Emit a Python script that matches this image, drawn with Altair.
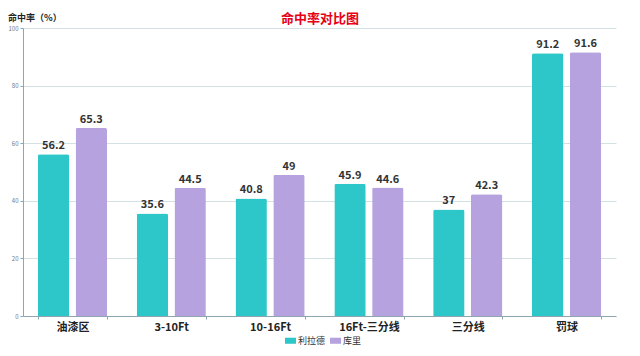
import altair as alt
import pandas as pd

categories = ["油漆区", "3-10Ft", "10-16Ft", "16Ft-三分线", "三分线", "罚球"]
series = ["利拉德", "库里"]
lillard = [56.2, 35.6, 40.8, 45.9, 37, 91.2]
curry = [65.3, 44.5, 49, 44.6, 42.3, 91.6]
colors = ["#2ec7c9", "#b6a2de"]
title_text = "命中率对比图"
ytitle_text = "命中率（%）"

rows = []
for i, c in enumerate(categories):
    rows.append({"区域": c, "球员": series[0], "命中率": lillard[i]})
    rows.append({"区域": c, "球员": series[1], "命中率": curry[i]})
df = pd.DataFrame(rows)

FONT = "Noto Sans CJK SC"

x = alt.X("区域:N", sort=categories,
          scale=alt.Scale(paddingInner=0.3, paddingOuter=0.15),
          axis=alt.Axis(title=None, labelAngle=0, labelFontSize=11, labelColor="#222",
                        labelFont=FONT, labelFontWeight="bold", labelPadding=2,
                        tickBand="extent", tickSize=3, tickColor="#8ea6b0",
                        domainColor="#8ea6b0", grid=False))
xo = alt.XOffset("球员:N", sort=series,
                 scale=alt.Scale(paddingInner=0.17, paddingOuter=0))
y = alt.Y("命中率:Q", scale=alt.Scale(domain=[0, 100]),
          axis=alt.Axis(values=[0, 20, 40, 60, 80, 100], title=None,
                        labelFontSize=6, labelColor="#777", labelPadding=2,
                        tickSize=3, tickColor="#8ea6b0", domainColor="#8ea6b0",
                        gridColor="#d3e0e4", gridWidth=1))
color = alt.Color("球员:N", sort=series,
                  scale=alt.Scale(domain=series, range=colors),
                  legend=alt.Legend(title=None, orient="none", direction="horizontal",
                                    legendX=262, legendY=307,
                                    symbolType="M-1,-0.55L1,-0.55L1,0.55L-1,0.55Z",
                                    symbolSize=121, symbolStrokeWidth=0,
                                    labelFontSize=9, labelFont=FONT, labelColor="#333",
                                    labelOffset=2, columnPadding=4))

bars = alt.Chart(df).mark_bar(cornerRadiusTopLeft=2, cornerRadiusTopRight=2).encode(
    x=x, xOffset=xo, y=y, color=color)

labels = alt.Chart(df).mark_text(baseline="bottom", dy=-3, fontSize=11,
                                 fontWeight="bold", color="#333", font=FONT).encode(
    x=alt.X("区域:N", sort=categories), xOffset=alt.XOffset("球员:N", sort=series),
    y="命中率:Q", text=alt.Text("命中率:Q"))

title_df = pd.DataFrame({"t": [title_text]})
title_mark = alt.Chart(title_df).mark_text(
    color="#e60012", fontSize=13, font=FONT, fontWeight="bold",
    align="center", baseline="middle").encode(
    x=alt.value(297), y=alt.value(-9), text="t:N")

ytitle_df = pd.DataFrame({"t": [ytitle_text]})
ytitle_mark = alt.Chart(ytitle_df).mark_text(
    color="#222", fontSize=9, font=FONT, fontWeight="bold",
    align="left", baseline="middle").encode(
    x=alt.value(-15), y=alt.value(-10), text="t:N")

chart = alt.layer(bars, labels, title_mark, ytitle_mark).properties(
    width=593, height=288,
    autosize=alt.AutoSizeParams(type="none"),
    padding={"left": 15, "top": 20, "right": 16, "bottom": 32},
).configure_view(stroke=None).configure_axis(labelFont=FONT)

chart.save("out.html", embed_options={"renderer": "svg", "actions": False})
